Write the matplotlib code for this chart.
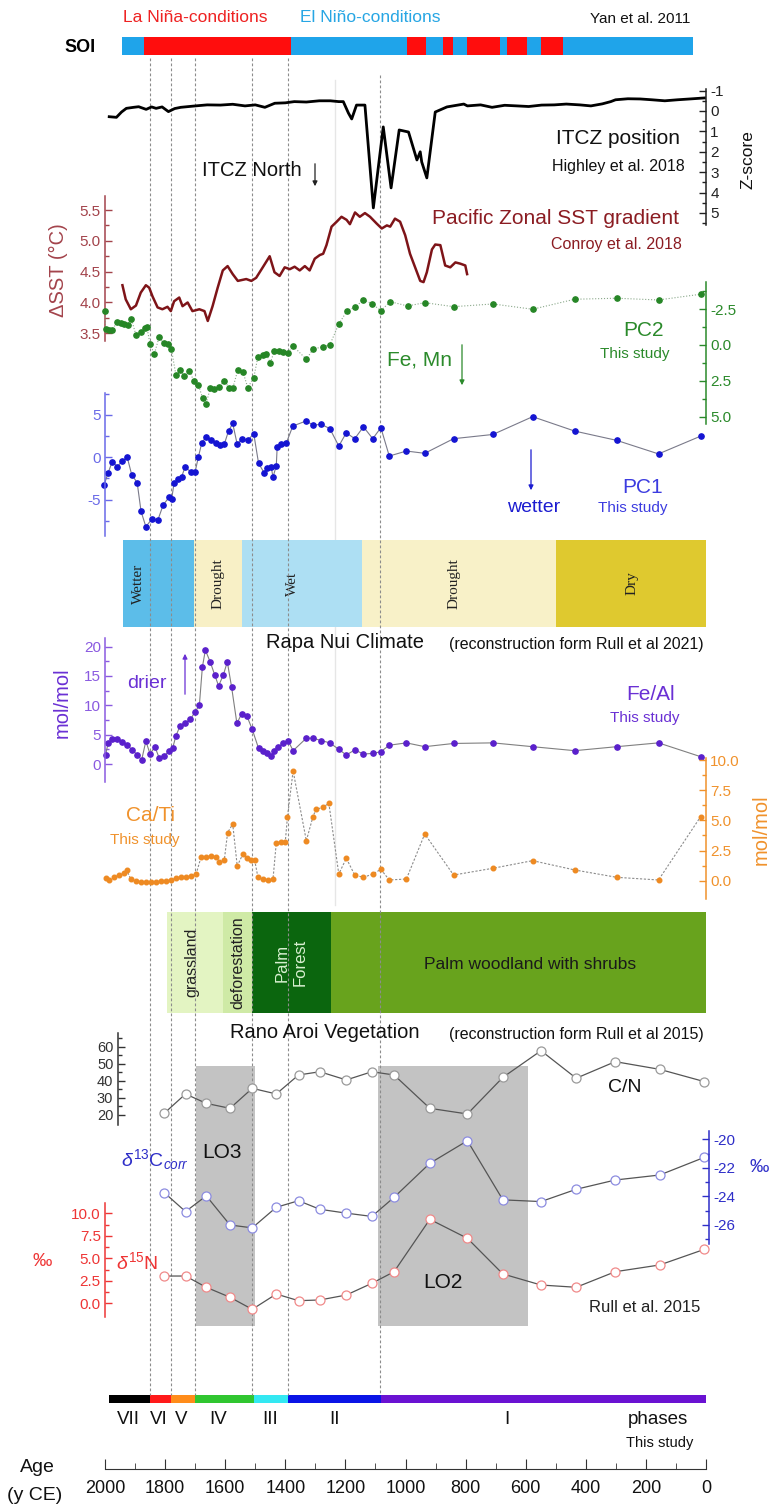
import matplotlib
matplotlib.use("Agg")
import matplotlib.pyplot as plt
from matplotlib.ticker import MultipleLocator, FixedLocator

plt.rcParams["font.family"] = ["Liberation Sans", "DejaVu Sans"]
plt.rcParams["mathtext.fontset"] = "custom"
plt.rcParams["mathtext.rm"] = "Liberation Sans"
plt.rcParams["mathtext.it"] = "Liberation Sans:italic"

# ---------------------------------------------------------------- data
# SOI state (Yan et al. 2011): segment edges in years CE, state of each segment
soi_edges = [1943, 1871, 1381, 995, 932, 876, 843, 797, 684, 662, 597, 550, 476, 43]
soi_state = ["El", "La", "El", "La", "El", "La", "El", "La", "El", "La", "El", "La", "El"]

# ITCZ position (Highley et al. 2018), Z-score
itcz_age = [1986, 1962, 1945, 1929, 1905, 1888, 1863, 1845, 1830, 1810, 1789, 1768, 1748,
            1720, 1699, 1660, 1616, 1575, 1534, 1500, 1468, 1435, 1400, 1370, 1330, 1287,
            1250, 1222, 1207, 1190, 1179, 1163, 1135, 1107, 1074, 1048, 1021, 990, 962,
            951, 946, 929, 901, 862, 806, 794, 750, 712, 670, 629, 590, 547, 505, 465, 420,
            383, 345, 317, 301, 260, 219, 180, 137, 95, 54, 5]
itcz_z = [0.28, 0.31, 0.05, -0.13, -0.18, -0.21, -0.08, -0.2, -0.13, -0.2, 0.03, -0.12, -0.18,
          -0.22, -0.25, -0.3, -0.29, -0.33, -0.25, -0.3, -0.18, -0.38, -0.4, -0.46, -0.44, -0.5,
          -0.5, -0.46, -0.46, 0.1, 0.39, -0.29, -0.29, 4.75, 0.78, 3.77, 0.93, 1.03, 2.4,
          2.0, 2.5, 3.28, 0.05, -0.2, -0.34, -0.25, -0.3, -0.18, -0.28, -0.25, -0.22, -0.29, -0.3, -0.34, -0.3,
          -0.25, -0.35, -0.46, -0.55, -0.6, -0.59, -0.55, -0.5, -0.55, -0.59, -0.64]

# Pacific zonal SST gradient (Conroy et al. 2018), degC
sst_age = [1942, 1931, 1914, 1897, 1881, 1864, 1853, 1842, 1825, 1809, 1792, 1781, 1770, 1753,
           1742, 1725, 1709, 1686, 1669, 1658, 1642, 1625, 1608, 1592, 1575, 1558, 1530, 1513,
           1497, 1475, 1452, 1436, 1419, 1402, 1385, 1369, 1352, 1335, 1319, 1302, 1285, 1274,
           1263, 1246, 1229, 1213, 1196, 1185, 1168, 1152, 1135, 1118, 1096, 1079, 1062, 1051,
           1035, 1018, 1001, 985, 968, 951, 940, 929, 912, 901, 884, 868, 851, 834, 818, 801, 795]
sst_val = [4.28, 4.05, 3.89, 3.95, 4.16, 4.28, 4.24, 4.10, 3.92, 3.89, 3.93, 3.86, 4.02, 4.08,
           3.94, 4.00, 3.86, 3.89, 3.86, 3.70, 3.94, 4.24, 4.52, 4.59, 4.46, 4.35, 4.38, 4.35,
           4.40, 4.57, 4.75, 4.49, 4.43, 4.57, 4.54, 4.58, 4.52, 4.59, 4.52, 4.71, 4.77, 4.79,
           4.93, 5.23, 5.31, 5.39, 5.34, 5.27, 5.46, 5.39, 5.45, 5.39, 5.28, 5.20, 5.25, 5.23,
           5.36, 5.31, 5.09, 4.79, 4.57, 4.35, 4.33, 4.49, 4.86, 4.94, 4.93, 4.60, 4.57, 4.65,
           4.63, 4.60, 4.46]

# PC2 (this study)
pc2_age = [2000, 1998, 1987, 1976, 1959, 1948, 1937, 1925, 1912, 1897, 1881, 1867, 1861, 1850,
           1836, 1820, 1805, 1792, 1779, 1764, 1750, 1736, 1719, 1705, 1689, 1675, 1664, 1649,
           1636, 1619, 1603, 1586, 1575, 1558, 1541, 1525, 1505, 1491, 1475, 1463, 1450, 1436,
           1422, 1408, 1391, 1374, 1330, 1308, 1276, 1252, 1222, 1194, 1169, 1140, 1112, 1082,
           1051, 993, 936, 840, 709, 577, 437, 297, 158, 18]
pc2_val = [-2.4, -1.1, -1.05, -1.05, -1.63, -1.52, -1.45, -1.4, -1.8, -0.7, -0.93, -1.17, -1.28,
           -0.07, 0.63, -0.54, -0.12, -0.05, 0.3, 2.1, 1.75, 2.17, 1.8, 2.5, 2.8, 3.73, 4.13, 2.98,
           3.1, 2.91, 2.5, 3.03, 3.03, 1.75, 1.87, 2.98, 2.28, 0.82, 0.7, 0.63, 1.24, 0.4,
           0.42, 0.47, 0.54, 0.07, 1.0, 0.3, 0.12, 0.0, -1.47, -2.4, -2.63, -3.15, -2.9, -2.4,
           -3.03, -2.73, -2.96, -2.68, -2.87, -2.5, -3.2, -3.27, -3.15, -3.55]

# PC1 (this study)
pc1_age = [2003, 1990, 1976, 1959, 1942, 1926, 1911, 1893, 1880, 1864, 1844, 1824, 1806, 1786,
           1778, 1770, 1756, 1745, 1734, 1714, 1700, 1689, 1678, 1664, 1647, 1630, 1616, 1603,
           1589, 1575, 1560, 1545, 1525, 1505, 1489, 1471, 1460, 1447, 1441, 1430, 1427, 1414,
           1397, 1375, 1330, 1308, 1281, 1252, 1222, 1197, 1169, 1140, 1109, 1082, 1054, 997,
           936, 840, 709, 577, 437, 297, 158, 18]
pc1_val = [-3.26, -1.88, -0.51, -1.1, -0.4, 0.0, -2.08, -2.98, -6.4, -8.2, -7.3, -7.4, -5.6,
           -4.7, -4.9, -2.98, -2.6, -2.3, -1.2, -1.7, -1.7, 0.07, 1.7, 2.4, 2.1, 1.65, 1.45,
           1.56, 3.1, 4.0, 1.53, 2.2, 2.0, 2.8, -0.7, -1.8, -1.3, -1.1, -2.35, -1.0, 1.25, 1.56,
           1.65, 3.7, 4.3, 3.8, 3.9, 3.4, 1.33, 2.9, 2.2, 3.6, 2.2, 3.5, 0.15, 0.74, 0.47, 2.2,
           2.7, 4.8, 3.1, 2.0, 0.4, 2.5]

# Rapa Nui climate (Rull et al. 2021)
climate_edges = [1940, 1705, 1545, 1145, 500, 0]
climate_names = ["Wetter", "Drought", "Wet", "Drought", "Dry"]
climate_colors = ["#5cbde9", "#f8f0c6", "#addff3", "#f8f1c8", "#dfc92f"]

# Fe/Al (this study), mol/mol
feal_age = [1998, 1990, 1976, 1959, 1942, 1926, 1909, 1892, 1878, 1864, 1850, 1834, 1820, 1803,
            1786, 1775, 1764, 1750, 1734, 1716, 1700, 1686, 1676, 1666, 1650, 1635, 1622, 1606,
            1593, 1579, 1561, 1545, 1528, 1510, 1489, 1475, 1460, 1447, 1438, 1424, 1408, 1391,
            1374, 1330, 1308, 1281, 1252, 1222, 1197, 1169, 1140, 1109, 1082, 1054, 997, 936,
            840, 709, 577, 437, 297, 158, 18]
feal_val = [1.53, 3.5, 4.2, 4.2, 3.8, 3.2, 2.4, 1.5, 0.7, 3.9, 1.7, 2.95, 1.07, 1.36, 2.27, 2.67,
            4.8, 6.5, 7.0, 7.6, 8.9, 10.0, 16.5, 19.4, 17.4, 15.2, 13.3, 15.2, 17.4, 13.2, 6.9,
            8.6, 8.2, 5.9, 2.67, 2.27, 1.93, 1.36, 2.27, 2.95, 3.5, 4.0, 2.27, 4.4, 4.4, 4.0,
            3.6, 2.5, 1.53, 2.4, 1.7, 1.8, 2.1, 3.2, 3.6, 2.95, 3.5, 3.6, 2.95, 2.27, 2.95, 3.6,
            1.25]

# Ca/Ti (this study), mol/mol
cati_age = [1998, 1987, 1970, 1953, 1937, 1928, 1914, 1897, 1881, 1864, 1847, 1831, 1814, 1797,
            1781, 1764, 1747, 1730, 1714, 1697, 1680, 1664, 1647, 1630, 1619, 1603, 1592, 1575,
            1560, 1541, 1527, 1513, 1502, 1491, 1475, 1458, 1441, 1430, 1415, 1400, 1393, 1374,
            1330, 1308, 1298, 1276, 1255, 1222, 1197, 1169, 1140, 1109, 1082, 1054, 997, 936,
            840, 709, 577, 437, 297, 158, 18]
cati_val = [0.2, 0.06, 0.28, 0.47, 0.66, 0.89, 0.11, -0.02, -0.08, -0.08, -0.1, -0.08, -0.05,
            -0.02, 0.06, 0.22, 0.33, 0.28, 0.39, 0.53, 1.99, 1.99, 2.05, 1.99, 1.57, 1.71, 3.98,
            4.7, 1.22, 2.21, 1.86, 1.71, 1.71, 0.28, 0.11, 0.06, 0.11, 3.15, 3.23, 3.23, 5.25,
            9.1, 3.31, 5.3, 5.9, 6.08, 6.4, 0.55, 1.86, 0.47, 0.28, 0.55, 0.94, 0.06, 0.14, 3.87,
            0.47, 1.03, 1.66, 0.89, 0.28, 0.06, 5.3]

# Rano Aroi vegetation (Rull et al. 2015)
veg_edges = [1795, 1606, 1512, 1248, 0]
veg_names = ["grassland", "deforestation", "Palm\nForest", "Palm woodland with shrubs"]
veg_colors = ["#e3f4c2", "#cfeaa6", "#0b660e", "#68a31d"]

# Rull et al. 2015 geochemistry
rull_age = [1803, 1732, 1663, 1584, 1510, 1430, 1356, 1285, 1197, 1112, 1038, 919, 794, 676,
            549, 432, 302, 154, 5]
cn_val = [21.0, 32.3, 26.8, 23.9, 35.6, 32.3, 43.4, 45.3, 40.5, 45.3, 43.4, 23.9, 20.6, 42.0,
          57.6, 41.5, 51.2, 46.7, 39.5]
d13c_val = [-23.73, -25.06, -23.96, -26.0, -26.2, -24.76, -24.3, -24.9, -25.17, -25.4, -24.06,
            -21.68, -20.1, -24.24, -24.36, -23.5, -22.85, -22.5, -21.26]
d15n_val = [3.03, 3.03, 1.78, 0.67, -0.67, 1.03, 0.29, 0.37, 0.92, 2.22, 3.51, 9.33, 7.22, 3.26,
            2.03, 1.78, 3.51, 4.26, 6.0]
lo_start = [1697, 1092]
lo_end = [1500, 594]
lo_names = ["LO3", "LO2"]

# phases (this study) and their boundaries
phase_edges = [1987, 1850, 1780, 1700, 1505, 1390, 1082, 0]
phase_names = ["VII", "VI", "V", "IV", "III", "II", "I"]
phase_colors = ["#000000", "#ff1a1a", "#ff8c1a", "#30c630", "#33e8f2", "#0a14e6", "#6a12d2"]
boundary_ages = [1850, 1780, 1700, 1510, 1390, 1085]

age_ticks = [2000, 1800, 1600, 1400, 1200, 1000, 800, 600, 400, 200, 0]

# ---------------------------------------------------------------- layout
W, H = 774, 1504
X0, X1 = 105, 706
fig = plt.figure(figsize=(W / 100, H / 100), dpi=100)
fig.patch.set_facecolor("white")


def fx(x):
    return x / W


def fy(y):
    return 1 - y / H


def ftext(x, y, s, **kw):
    kw.setdefault("va", "center")
    kw.setdefault("ha", "left")
    return fig.text(fx(x), fy(y), s, **kw)


def arrow(x, y0, y1, color):
    fig.add_artist(matplotlib.patches.FancyArrowPatch(
        (fx(x), fy(y0)), (fx(x), fy(y1)), transform=fig.transFigure,
        arrowstyle="-|>", mutation_scale=7, lw=0.9, color=color))


def strip_axes(top, bottom, z=1):
    ax = fig.add_axes([fx(X0), fy(bottom), (X1 - X0) / W, (bottom - top) / H])
    ax.set_xlim(2000, 0)
    ax.patch.set_alpha(0)
    for s in ax.spines.values():
        s.set_visible(False)
    ax.set_xticks([])
    ax.set_yticks([])
    ax.set_zorder(z)
    return ax


def value_axes(top, bottom, ref_a, ref_b, side, color, bounds, major, minor,
               fmt="{:g}", labelsize=11, shift=0):
    (va, pa), (vb, pb) = ref_a, ref_b
    slope = (vb - va) / (pb - pa)
    ax = strip_axes(top, bottom, z=5)
    ax.set_ylim(va + (bottom - pa) * slope, va + (top - pa) * slope)
    sp = ax.spines[side]
    sp.set_visible(True)
    sp.set_color(color)
    sp.set_linewidth(1.1)
    sp.set_bounds(*bounds)
    if shift:
        sp.set_position(("outward", shift))
    if side == "right":
        ax.yaxis.tick_right()
    else:
        ax.yaxis.tick_left()
    ax.yaxis.set_major_locator(FixedLocator(major))
    ax.yaxis.set_minor_locator(FixedLocator(minor))
    ax.set_yticklabels([fmt.format(v) for v in major])
    ax.tick_params(axis="y", which="both", direction="in", color=color, labelcolor=color,
                   labelsize=labelsize, width=1.0, pad=3)
    ax.tick_params(axis="y", which="major", length=5)
    ax.tick_params(axis="y", which="minor", length=3)
    return ax


# LO zones (grey boxes behind the Rull et al. curves)
box_ax = strip_axes(0, H, z=0)
box_ax.set_ylim(H, 0)
for a0, a1 in zip(lo_start, lo_end):
    box_ax.fill_between([a0, a1], 1065.7, 1326, color="#c3c3c3", lw=0)
# faint guide line through the middle panels
box_ax.plot([1235, 1235], [80, 905], color="#e6e6e6", lw=1.0)

# SOI bar
ax = strip_axes(37, 55, z=2)
ax.set_ylim(0, 1)
for a0, a1, st in zip(soi_edges[:-1], soi_edges[1:], soi_state):
    ax.barh(0.5, a0 - a1, left=a1, height=1, color="#ff0d0d" if st == "La" else "#1fa4ea", lw=0)
ftext(123, 17, "La Niña-conditions", color="#ee2222", fontsize=12.5)
ftext(300, 17, "El Niño-conditions", color="#27a6e4", fontsize=12.5)
ftext(690, 19, "Yan et al. 2011", color="#111111", fontsize=11, ha="right")
ftext(80, 47, "SOI", color="black", fontsize=13, fontweight="bold", ha="center")

# climate band
ax = strip_axes(540, 627, z=2)
ax.set_ylim(0, 1)
climate_label_ages = [1890, 1625, 1375, 840, 245]
for a0, a1, c in zip(climate_edges[:-1], climate_edges[1:], climate_colors):
    ax.barh(0.5, a0 - a1, left=a1, height=1, color=c, lw=0)
for name, xa in zip(climate_names, climate_label_ages):
    ax.text(xa, 0.5, name, rotation=90, ha="center", va="center", fontsize=11,
            family=["Liberation Serif", "DejaVu Serif"], color="#222222")
ftext(266, 643, "Rapa Nui Climate", fontsize=14.5, color="#111111")
ftext(704, 644, "(reconstruction form Rull et al 2021)", fontsize=11.5, color="#111111",
      ha="right")

# vegetation band
ax = strip_axes(912, 1013, z=2)
ax.set_ylim(0, 1)
veg_text_colors = ["#222222", "#222222", "#d8f0d0", "#1a1a1a"]
for a0, a1, c in zip(veg_edges[:-1], veg_edges[1:], veg_colors):
    ax.barh(0.5, a0 - a1, left=a1, height=1, color=c, lw=0)
ax.text(1710, 0.5, veg_names[0], rotation=90, ha="center", va="center", fontsize=11.5,
        color=veg_text_colors[0])
ax.text(1559, 0.5, veg_names[1], rotation=90, ha="center", va="center", fontsize=11.5,
        color=veg_text_colors[1])
ax.text(1380, 0.5, veg_names[2], rotation=90, ha="center", va="center", fontsize=12,
        color=veg_text_colors[2], linespacing=1.3)
ax.text(585, 0.48, veg_names[3], ha="center", va="center", fontsize=12.5,
        color=veg_text_colors[3])
ftext(230, 1033, "Rano Aroi Vegetation", fontsize=14.5, color="#111111")
ftext(704, 1034, "(reconstruction form Rull et al 2015)", fontsize=11.5, color="#111111",
      ha="right")

# phase bar
ax = strip_axes(1395, 1403, z=2)
ax.set_ylim(0, 1)
for a0, a1, c in zip(phase_edges[:-1], phase_edges[1:], phase_colors):
    ax.barh(0.5, a0 - a1, left=a1, height=1, color=c, lw=0)
phase_label_ages = [1922, 1822, 1745, 1622, 1449, 1236, 662]
lab_ax = strip_axes(1410, 1430, z=2)
lab_ax.set_ylim(0, 1)
for name, xa in zip(phase_names, phase_label_ages):
    lab_ax.text(xa, 0.5, name, ha="center", va="center", fontsize=13.5, color="#111111")
ftext(658, 1420, "phases", fontsize=13.5, ha="center", color="#111111")
ftext(660, 1443, "This study", fontsize=10.5, ha="center", color="#111111")

# boundary lines between phases
line_ax = strip_axes(0, H, z=3)
line_ax.set_ylim(H, 0)
for a in boundary_ages:
    y_start = 75 if a < 1200 else 58
    line_ax.plot([a, a], [y_start, 1395], color="#8c8c8c", lw=0.8, ls=(0, (2.5, 2)))

# ITCZ position
ax = value_axes(86, 228, (0, 111), (5, 213), "right", "#222222", (-1.1, 5.6),
                [-1, 0, 1, 2, 3, 4, 5], [-0.5, 0.5, 1.5, 2.5, 3.5, 4.5, 5.5])
ax.plot(itcz_age, itcz_z, color="black", lw=2.0, clip_on=False)
ftext(748, 160, "Z-score", rotation=90, fontsize=12.5, ha="center", color="#111111")
ftext(680, 138, "ITCZ position", fontsize=15, ha="right", color="#111111")
ftext(685, 167, "Highley et al. 2018", fontsize=11.5, ha="right", color="#111111")
ftext(202, 170, "ITCZ North", fontsize=14.5, color="#111111")
arrow(315, 161, 189, "#222222")

# SST gradient
sst_c = "#a3434b"
ax = value_axes(193, 345, (5.5, 210), (3.5, 333.3), "left", sst_c, (3.38, 5.72),
                [3.5, 4.0, 4.5, 5.0, 5.5], [3.75, 4.25, 4.75, 5.25], fmt="{:.1f}")
ax.plot(sst_age, sst_val, color="#7e1418", lw=1.8, clip_on=False)
ftext(58, 270, "ΔSST (°C)", rotation=90, fontsize=14.5, ha="center", color=sst_c)
ftext(679, 218, "Pacific Zonal SST gradient", fontsize=15, ha="right", color="#8b1c22")
ftext(682, 245, "Conroy et al. 2018", fontsize=11.5, ha="right", color="#8b1c22")

# PC2
pc2_c = "#2b8a2b"
ax = value_axes(278, 428, (0, 345), (5, 416.5), "right", pc2_c, (-4.4, 5.5),
                [-2.5, 0.0, 2.5, 5.0], [-3.75, -1.25, 1.25, 3.75], fmt="{:.1f}")
ax.plot(pc2_age, pc2_val, color="#8aa88a", lw=0.8, ls=":", clip_on=False)
ax.plot(pc2_age, pc2_val, ls="none", marker="o", ms=3.8, color="#268626", clip_on=False)
ftext(664, 330, "PC2", fontsize=15, ha="right", color=pc2_c)
ftext(669, 354, "This study", fontsize=11, ha="right", color=pc2_c)
ftext(387, 360, "Fe, Mn", fontsize=15, color=pc2_c)
arrow(462, 342, 388, pc2_c)

# PC1
pc1_c = "#3c3ce0"
ax = value_axes(388, 540, (0, 457.3), (5, 415), "left", "#6a6ae8", (-9.3, 7.6),
                [-5, 0, 5], [-7.5, -2.5, 2.5, 7.5])
ax.plot(pc1_age, pc1_val, color="#7a7a8a", lw=0.8, clip_on=False)
ax.plot(pc1_age, pc1_val, ls="none", marker="o", ms=3.8, color="#1414d2", clip_on=False)
ftext(663, 487, "PC1", fontsize=15, ha="right", color=pc1_c)
ftext(667, 508, "This study", fontsize=11, ha="right", color=pc1_c)
ftext(507, 508, "wetter", fontsize=14, color="#1c1cd0")
arrow(531, 447, 493, "#1c1cd0")

# Fe/Al
feal_c = "#6a30d4"
ax = value_axes(636, 784, (0, 764), (20, 646.6), "left", "#8a5ae0", (-3, 21.5),
                [0, 5, 10, 15, 20], [2.5, 7.5, 12.5, 17.5])
ax.plot(feal_age, feal_val, color="#808080", lw=0.8, clip_on=False)
ax.plot(feal_age, feal_val, ls="none", marker="o", ms=3.8, color="#5a20cc", clip_on=False)
ftext(62, 703, "mol/mol", rotation=90, fontsize=14.5, ha="center", color=feal_c)
ftext(127, 683, "drier", fontsize=14, color=feal_c)
arrow(185, 697, 651, feal_c)
ftext(675, 695, "Fe/Al", fontsize=15, ha="right", color=feal_c)
ftext(679, 718, "This study", fontsize=11, ha="right", color=feal_c)

# Ca/Ti
cati_c = "#f0922c"
ax = value_axes(752, 902, (0, 880.7), (10, 760), "right", cati_c, (-1.5, 10.2),
                [0, 2.5, 5.0, 7.5, 10.0], [1.25, 3.75, 6.25, 8.75], fmt="{:.1f}")
ax.plot(cati_age, cati_val, color="#8c8c8c", lw=0.8, ls=(0, (2, 1.5)), clip_on=False)
ax.plot(cati_age, cati_val, ls="none", marker="o", ms=3.3, color="#ee8a22", clip_on=False)
ftext(761, 830, "mol/mol", rotation=90, fontsize=14.5, ha="center", color=cati_c)
ftext(175, 816, "Ca/Ti", fontsize=15, ha="right", color=cati_c)
ftext(180, 840, "This study", fontsize=11, ha="right", color=cati_c)

# C/N
ax = value_axes(1038, 1122, (20, 1115), (60, 1046.6), "left", "#333333", (14, 68),
                [20, 30, 40, 50, 60], [15, 25, 35, 45, 55, 65], labelsize=10.5, shift=-9)
ax.plot(rull_age, cn_val, color="#555555", lw=0.9, marker="o", ms=6.5, mfc="white",
        mec="#9a9a9a", mew=0.9, clip_on=False)
ftext(625, 1088, "C/N", fontsize=14, ha="center", color="#111111")

# delta 13C
d13_c = "#2e2ec8"
ax = value_axes(1126, 1247, (-20, 1139.3), (-26, 1225), "right", d13_c, (-27.3, -19.4),
                [-20, -22, -24, -26], [-21, -23, -25, -27], shift=2)
ax.plot(rull_age, d13c_val, color="#555555", lw=0.9, marker="o", ms=6.5, mfc="white",
        mec="#8c8ce0", mew=0.9, clip_on=False)
ftext(749, 1167, "‰", fontsize=14, color=d13_c)
ftext(121, 1160, r"$\delta^{13}$C$_{corr}$", fontsize=14, color=d13_c)

# delta 15N
d15_c = "#ee3535"
ax = value_axes(1203, 1320, (0, 1303.3), (10, 1213.3), "left", d15_c, (-1.5, 11.2),
                [0, 2.5, 5.0, 7.5, 10.0], [1.25, 3.75, 6.25, 8.75], fmt="{:.1f}")
ax.plot(rull_age, d15n_val, color="#555555", lw=0.9, marker="o", ms=6.5, mfc="white",
        mec="#f08a8a", mew=0.9, clip_on=False)
ftext(42, 1262, "‰", fontsize=14, ha="center", color=d15_c)
ftext(116, 1262, r"$\delta^{15}$N", fontsize=14, color=d15_c)
ftext(700, 1307, "Rull et al. 2015", fontsize=12, ha="right", color="#222222")

lo_label_ages = [1611, 875]
lo_label_y = [1153, 1282]
for xa, ya, name in zip(lo_label_ages, lo_label_y, lo_names):
    box_ax.text(xa, ya, name, ha="center", va="center", fontsize=15, color="#111111")

# age axis
ax = fig.add_axes([fx(X0), fy(1469), (X1 - X0) / W, 10 / H])
ax.set_xlim(2000, 0)
ax.patch.set_alpha(0)
for k in ("top", "left", "right"):
    ax.spines[k].set_visible(False)
ax.spines["bottom"].set_color("#333333")
ax.set_yticks([])
ax.xaxis.set_major_locator(FixedLocator(age_ticks))
ax.xaxis.set_minor_locator(MultipleLocator(100))
ax.tick_params(axis="x", which="both", direction="in", color="#333333", labelsize=13,
               pad=8, labelcolor="#111111")
ax.tick_params(axis="x", which="major", length=7)
ax.tick_params(axis="x", which="minor", length=4)
ftext(37, 1467, "Age", fontsize=14, ha="center", color="#111111")
ftext(35, 1495, "(y CE)", fontsize=14, ha="center", color="#111111")

fig.savefig("out.png", dpi=100, facecolor="white")
